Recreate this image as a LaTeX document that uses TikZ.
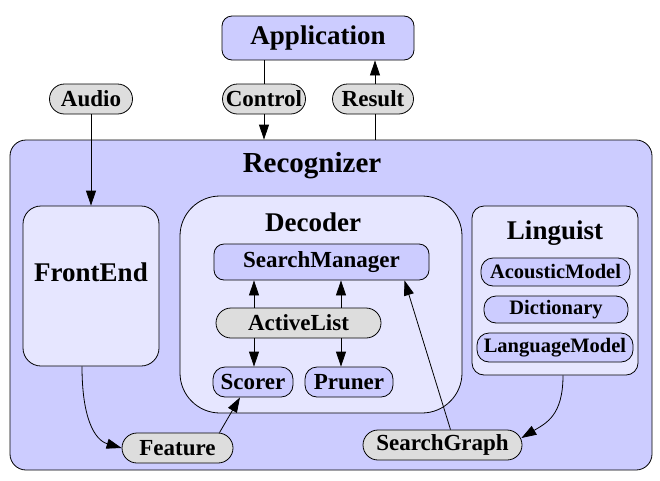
\documentclass[tikz,border=0pt]{standalone}
\usepackage{fontspec}
\setmainfont{Liberation Serif}
\usetikzlibrary{arrows.meta,calc}
\definecolor{midblue}{RGB}{204,204,255}
\definecolor{lightblue}{RGB}{230,230,255}
\definecolor{pillgray}{RGB}{221,221,221}
\tikzset{
  box/.style={draw, line width=0.8pt, inner sep=0pt, font=\bfseries\fontsize{23}{27}\selectfont},
  bluebox/.style={box, fill=midblue},
  lightbox/.style={box, fill=lightblue},
  graypill/.style={box, fill=pillgray, rounded corners=15pt},
  titletext/.style={inner sep=0pt, font=\bfseries\fontsize{27}{31}\selectfont},
  subtext/.style={font=\bfseries\fontsize{20.5}{24}\selectfont},
  arr/.style={line width=0.8pt, -{Triangle[length=15pt,width=10pt]}},
  conn/.style={line width=0.8pt},
}
\begin{document}
\begin{tikzpicture}[x=1pt,y=-1pt]
\useasboundingbox (0,0) rectangle (660,480);
% containers
\node[bluebox, rounded corners=16pt, minimum width=642pt, minimum height=330pt] (rec) at (331,305) {};
\node[titletext, font=\bfseries\fontsize{29}{33}\selectfont] (rectitle) at (312,166) {Recognizer};
\node[bluebox, rounded corners=10pt, minimum width=192pt, minimum height=44pt, font=\bfseries\fontsize{27}{31}\selectfont] (app) at (318,38) {Application};
\node[lightbox, rounded corners=18pt, minimum width=136pt, minimum height=160pt] (fe) at (91,286) {};
\node[titletext] (fetitle) at (91,272) {FrontEnd};
\node[lightbox, rounded corners=40pt, minimum width=282pt, minimum height=217pt] (dec) at (321,304.5) {};
\node[titletext] (dectitle) at (313,222) {Decoder};
\node[lightbox, rounded corners=12pt, minimum width=166pt, minimum height=169pt] (ling) at (555,290.5) {};
\node[titletext] (lingtitle) at (555,233) {Linguist};
% inner nodes
\node[bluebox, rounded corners=10pt, minimum width=215pt, minimum height=36pt] (sm) at (321.5,262) {SearchManager};
\node[graypill, minimum width=165pt, minimum height=30pt] (al) at (298.5,323) {ActiveList};
\node[bluebox, rounded corners=12pt, minimum width=80pt, minimum height=30pt] (scorer) at (253,382) {Scorer};
\node[bluebox, rounded corners=12pt, minimum width=88pt, minimum height=30pt] (pruner) at (349,382) {Pruner};
\node[bluebox, subtext, rounded corners=12pt, minimum width=149pt, minimum height=28pt] (am) at (555.5,272) {AcousticModel};
\node[bluebox, subtext, rounded corners=12pt, minimum width=144pt, minimum height=27pt] (dict) at (556,309.5) {Dictionary};
\node[bluebox, subtext, rounded corners=12pt, minimum width=156pt, minimum height=29pt] (lm) at (555,347.5) {LanguageModel};
% pills
\node[graypill, minimum width=83pt, minimum height=30pt] (control) at (264,99) {Control};
\node[graypill, minimum width=81pt, minimum height=30pt] (result) at (373,99) {Result};
\node[graypill, minimum width=83pt, minimum height=30pt] (audio) at (91,99) {Audio};
\node[graypill, minimum width=111pt, minimum height=30pt] (feature) at (177.5,448) {Feature};
\node[graypill, minimum width=159pt, minimum height=30pt] (sg) at (442.5,445) {SearchGraph};
% connectors
\draw[conn] (control.north |- app.south) -- (control.north);
\draw[arr] (control.south) -- (control.south |- rec.north);
\draw[conn] ($(result.south |- rec.north)+(2,0)$) -- ($(result.south)+(2,0)$);
\draw[arr] ($(result.north)+(2,0)$) -- ($(result.north |- app.south)+(2,0)$);
\draw[arr] (audio.south) -- (audio.south |- fe.north);
\coordinate (sx) at ($(scorer.north)+(1,0)$);
\coordinate (px) at ($(pruner.north)+(-8,0)$);
\draw[arr] (sx |- al.north) -- (sx |- sm.south);
\draw[arr] (sx |- al.south) -- (sx);
\draw[arr] (px |- al.north) -- (px |- sm.south);
\draw[arr] (px |- al.south) -- (px);
\draw[arr] ($(fe.south)+(-9,0)$) .. controls +(0,52) and +(-27,-8) .. (feature.west);
\draw[arr] ($(feature.north)+(42,0)$) -- ($(scorer.south)+(-13,0)$);
\draw[arr] ($(sg.north)+(8,0)$) -- ($(sm.south)+(83,0)$);
\draw[arr] ($(ling.south)+(8,0)$) .. controls +(0,40) and +(25,-15) .. ($(sg.east)+(-1,-7)$);
\end{tikzpicture}
\end{document}
